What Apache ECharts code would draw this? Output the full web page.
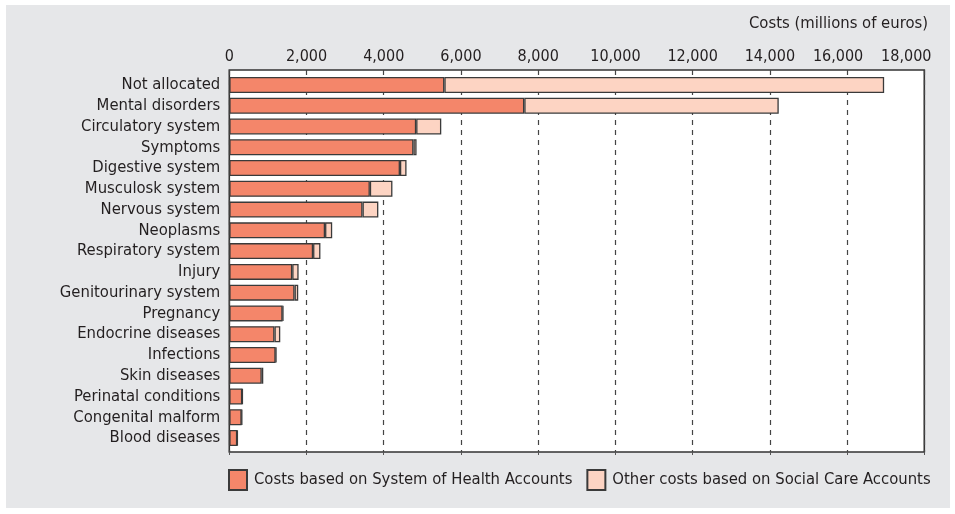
<!DOCTYPE html>
<html>
<head>
<meta charset="utf-8">
<title>Costs by diagnosis group</title>
<script src="https://cdn.jsdelivr.net/npm/echarts@6/dist/echarts.min.js"></script>
<style>
  html, body { margin: 0; padding: 0; background: #ffffff; }
  #chart {
    position: absolute; left: 6px; top: 5px;
    width: 944px; height: 503px;
    background: #e6e7e9;
  }
</style>
</head>
<body>
<div id="chart"></div>
<script>
// Diagnosis groups, largest first (drawn top to bottom)
const categories = [
  'Not allocated', 'Mental disorders', 'Circulatory system', 'Symptoms',
  'Digestive system', 'Musculosk system', 'Nervous system', 'Neoplasms',
  'Respiratory system', 'Injury', 'Genitourinary system', 'Pregnancy',
  'Endocrine diseases', 'Infections', 'Skin diseases', 'Perinatal conditions',
  'Congenital malform', 'Blood diseases'
];

// Costs based on System of Health Accounts (millions of euros)
const healthAccountCosts = [
  5570, 7640, 4840, 4770, 4420, 3640, 3450, 2480,
  2170, 1630, 1690, 1380, 1170, 1200, 840, 335, 320, 205
];

// Other costs based on Social Care Accounts (millions of euros)
const socialCareCosts = [
  11390, 6590, 650, 80, 170, 585, 410, 185,
  190, 165, 95, 20, 150, 20, 40, 10, 10, 10
];

// Value axis ticks
const axisMax = 18000;
const axisStep = 2000;

const seriesNames = [
  'Costs based on System of Health Accounts',
  'Other costs based on Social Care Accounts'
];

const textFont = '"DejaVu Sans Condensed", "Liberation Sans Narrow", sans-serif';
const tickSize = 16;

const chart = echarts.init(document.getElementById('chart'), null, { renderer: 'canvas' });

const barBorder = { borderColor: '#3a3a3a', borderWidth: 1.3 };

// the two rightmost tick labels are nudged left so they stay inside the panel
const tickRich = {
  n:  { fontFamily: textFont, fontSize: tickSize, color: '#231f20' },
  s1: { fontFamily: textFont, fontSize: tickSize, color: '#231f20', padding: [0, 18, 0, 0] },
  s2: { fontFamily: textFont, fontSize: tickSize, color: '#231f20', padding: [0, 36, 0, 0] }
};

function tickText(v) {
  const s = v.toLocaleString('en-US');
  if (v === axisMax) return '{s2|' + s + '}';
  if (v === axisMax - axisStep) return '{s1|' + s + '}';
  return '{n|' + s + '}';
}

chart.setOption({
  animation: false,
  backgroundColor: 'transparent',
  textStyle: { fontFamily: textFont },
  grid: [
    // framed white plot area carrying the value scale and dashed guides
    {
      left: 223.3, top: 65, right: 25.7, bottom: 56,
      show: true,
      backgroundColor: '#ffffff',
      borderColor: '#333333',
      borderWidth: 1.6,
      containLabel: false,
      outerBoundsMode: 'none'
    },
    // bar area, inset a little from the frame top and bottom
    {
      left: 223.3, top: 69.6, right: 25.7, bottom: 59.6,
      containLabel: false,
      outerBoundsMode: 'none'
    }
  ],
  graphic: [{
    type: 'text',
    x: 922, y: 19,
    style: {
      text: 'Costs (millions of euros)',
      font: '16.5px ' + textFont,
      fill: '#231f20',
      textAlign: 'right',
      textVerticalAlign: 'middle'
    }
  }],
  legend: {
    left: 222, top: 464,
    padding: 0,
    itemWidth: 18, itemHeight: 20,
    itemGap: 14,
    icon: 'rect',
    textStyle: {
      fontFamily: textFont, fontSize: 16.5, color: '#231f20',
      padding: [0, 0, 0, 2]
    },
    data: seriesNames
  },
  xAxis: [
    {
      gridIndex: 0,
      type: 'value',
      position: 'top',
      min: 0, max: axisMax, interval: axisStep,
      axisLine: { show: false },
      axisTick: { show: true, inside: true, length: 3, lineStyle: { color: '#555555', width: 1 } },
      axisLabel: {
        margin: 5,
        fontFamily: textFont, fontSize: tickSize, color: '#231f20',
        formatter: tickText,
        rich: tickRich
      },
      splitLine: {
        show: true,
        lineStyle: { color: '#444444', width: 1.2, type: [5, 5] }
      }
    },
    {
      gridIndex: 1,
      type: 'value',
      position: 'top',
      min: 0, max: axisMax, interval: axisStep,
      show: false
    }
  ],
  yAxis: [
    {
      gridIndex: 0,
      type: 'value',
      show: false
    },
    {
      gridIndex: 1,
      type: 'category',
      inverse: true,
      data: categories,
      axisLine: { show: false },
      axisTick: { show: false },
      splitLine: { show: false },
      axisLabel: {
        interval: 0,
        margin: 9,
        fontFamily: textFont, fontSize: 16.5, color: '#231f20'
      }
    }
  ],
  series: [
    {
      name: seriesNames[0],
      type: 'bar',
      xAxisIndex: 1, yAxisIndex: 1,
      stack: 'total',
      barWidth: 16,
      itemStyle: Object.assign({ color: '#f4866a' }, barBorder),
      data: healthAccountCosts
    },
    {
      name: seriesNames[1],
      type: 'bar',
      xAxisIndex: 1, yAxisIndex: 1,
      stack: 'total',
      barWidth: 16,
      itemStyle: Object.assign({ color: '#fdd4c3' }, barBorder),
      data: socialCareCosts
    }
  ]
});
</script>
</body>
</html>
